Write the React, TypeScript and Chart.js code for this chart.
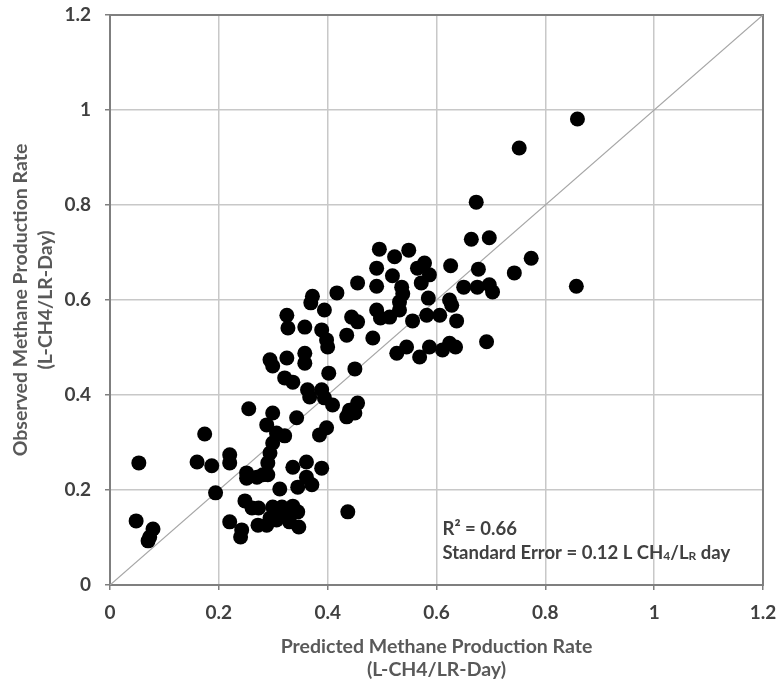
import React, { useEffect, useRef } from "react";
import { Chart, registerables } from "chart.js";
Chart.register(...registerables);

// Predicted (x) and observed (y) methane production rates, L-CH4/LR-Day
const predicted = [
  0.859, 0.752, 0.673, 0.664, 0.697, 0.774, 0.743, 0.626, 0.677, 0.857,
  0.650, 0.675, 0.697, 0.703, 0.578, 0.587, 0.572, 0.585, 0.624, 0.628,
  0.582, 0.606, 0.637, 0.587, 0.611, 0.624, 0.635, 0.692, 0.569, 0.545,
  0.527, 0.495, 0.523, 0.549, 0.565, 0.490, 0.519, 0.455, 0.490, 0.536,
  0.372, 0.417, 0.538, 0.369, 0.394, 0.325, 0.327, 0.358, 0.389, 0.398,
  0.400, 0.435, 0.444, 0.455, 0.483, 0.490, 0.497, 0.514, 0.532, 0.532,
  0.556, 0.294, 0.299, 0.325, 0.358, 0.358, 0.402, 0.450, 0.321, 0.336,
  0.363, 0.367, 0.389, 0.394, 0.409, 0.440, 0.455, 0.435, 0.450, 0.343,
  0.255, 0.299, 0.288, 0.306, 0.321, 0.385, 0.398, 0.174, 0.299, 0.294,
  0.290, 0.281, 0.251, 0.251, 0.270, 0.290, 0.053, 0.160, 0.187, 0.220,
  0.220, 0.336, 0.361, 0.389, 0.361, 0.345, 0.371, 0.312, 0.194, 0.248,
  0.261, 0.273, 0.299, 0.316, 0.336, 0.345, 0.325, 0.306, 0.288, 0.272,
  0.347, 0.321, 0.294, 0.330, 0.437, 0.220, 0.242, 0.240, 0.048, 0.079,
  0.073, 0.070,
];
const observed = [
  0.981, 0.920, 0.806, 0.728, 0.731, 0.688, 0.657, 0.672, 0.665, 0.629,
  0.627, 0.627, 0.632, 0.617, 0.678, 0.653, 0.636, 0.604, 0.600, 0.589,
  0.568, 0.568, 0.556, 0.501, 0.495, 0.509, 0.501, 0.512, 0.480, 0.501,
  0.488, 0.707, 0.691, 0.705, 0.667, 0.667, 0.651, 0.636, 0.629, 0.627,
  0.608, 0.615, 0.613, 0.594, 0.579, 0.568, 0.541, 0.543, 0.537, 0.516,
  0.501, 0.526, 0.564, 0.554, 0.520, 0.579, 0.562, 0.564, 0.579, 0.596,
  0.556, 0.474, 0.461, 0.478, 0.488, 0.467, 0.446, 0.455, 0.436, 0.427,
  0.411, 0.396, 0.411, 0.394, 0.379, 0.368, 0.383, 0.354, 0.362, 0.352,
  0.371, 0.362, 0.337, 0.320, 0.314, 0.316, 0.331, 0.318, 0.299, 0.278,
  0.257, 0.232, 0.236, 0.225, 0.227, 0.232, 0.257, 0.259, 0.251, 0.274,
  0.257, 0.248, 0.259, 0.246, 0.227, 0.206, 0.211, 0.202, 0.194, 0.177,
  0.162, 0.162, 0.164, 0.164, 0.166, 0.154, 0.143, 0.137, 0.126, 0.126,
  0.122, 0.152, 0.141, 0.133, 0.154, 0.133, 0.116, 0.101, 0.135, 0.118,
  0.101, 0.093,
];

const oneToOneX = [0, 1.2];
const oneToOneY = [0, 1.2];
const xTickValues = [0, 0.2, 0.4, 0.6, 0.8, 1, 1.2];
const yTickValues = [0, 0.2, 0.4, 0.6, 0.8, 1, 1.2];
const xTitle = ["Predicted Methane Production Rate", "(L-CH4/LR-Day)"];
const yTitle = ["Observed Methane Production Rate", "(L-CH4/LR-Day)"];
const rSquaredLabel = "R² = 0.66";
// segments: [text, isSubscript]
const stdErrorLabel: [string, boolean][] = [
  ["Standard Error = 0.12 L CH", false],
  ["4", true],
  ["/L", false],
  ["R", true],
  [" day", false],
];
const annotX = 0.611;
const annotY1 = 0.118;
const annotY2 = 0.067;

const FONT = "Lato, 'Open Sans', sans-serif";

const framePlugin = {
  id: "frame",
  beforeDatasetsDraw(chart: any) {
    const { ctx, chartArea: a } = chart;
    ctx.save();
    ctx.strokeStyle = "#7f7f7f";
    ctx.lineWidth = 2;
    ctx.strokeRect(a.left, a.top, a.right - a.left, a.bottom - a.top);
    ctx.restore();
  },
};

const annotationPlugin = {
  id: "annot",
  afterDatasetsDraw(chart: any) {
    const { ctx, scales } = chart;
    const x0 = scales.x.getPixelForValue(annotX);
    const y1 = scales.y.getPixelForValue(annotY1);
    const y2 = scales.y.getPixelForValue(annotY2);
    ctx.save();
    ctx.fillStyle = "#404040";
    ctx.textBaseline = "middle";
    ctx.textAlign = "left";
    ctx.font = `bold 18.5px ${FONT}`;
    ctx.fillText(rSquaredLabel, x0, y1);
    let x = x0;
    for (const [t, sub] of stdErrorLabel) {
      ctx.font = sub ? `bold 12px ${FONT}` : `bold 18.5px ${FONT}`;
      ctx.fillText(t, x, sub ? y2 + 3 : y2);
      x += ctx.measureText(t).width;
    }
    ctx.restore();
  },
};

const fmt = (v: any) => String(Math.round(Number(v) * 10) / 10);

export default function App() {
  const ref = useRef<HTMLCanvasElement | null>(null);
  useEffect(() => {
    if (!ref.current) return;
    const chart = new Chart(ref.current, {
      type: "scatter",
      data: {
        datasets: [
          {
            label: "Observed vs Predicted",
            data: predicted.map((x, i) => ({ x, y: observed[i] })),
            backgroundColor: "#000000",
            borderColor: "#000000",
            pointRadius: 7.5,
            pointBorderWidth: 0,
          },
          {
            label: "1:1",
            type: "line",
            data: oneToOneX.map((x, i) => ({ x, y: oneToOneY[i] })),
            borderColor: "#a6a6a6",
            borderWidth: 1.2,
            pointRadius: 0,
            fill: false,
          },
        ],
      },
      options: {
        animation: false,
        responsive: false,
        devicePixelRatio: 1,
        layout: { padding: { top: 15, right: 13, left: 0, bottom: 0 } },
        plugins: { legend: { display: false }, tooltip: { enabled: false } },
        scales: {
          x: {
            type: "linear",
            min: 0,
            max: 1.2,
            afterBuildTicks: (s: any) => {
              s.ticks = xTickValues.map((v) => ({ value: v }));
            },
            afterFit: (s: any) => {
              s.height = 96;
              s.paddingLeft = 0;
              s.paddingRight = 0;
            },
            grid: { color: "#c8c8c8", lineWidth: 1.5, tickLength: 5, tickColor: "#7f7f7f" },
            border: { color: "#7f7f7f", width: 2 },
            ticks: {
              color: "#404040",
              font: { family: FONT, size: 19, weight: "bold" },
              padding: 11,
              maxRotation: 0,
              callback: fmt,
            },
            title: {
              display: true,
              text: xTitle,
              color: "#595959",
              font: { family: FONT, size: 19.5, weight: "bold", lineHeight: 1.18 },
              padding: { top: 0, bottom: 0 },
            },
          },
          y: {
            type: "linear",
            min: 0,
            max: 1.2,
            afterBuildTicks: (s: any) => {
              s.ticks = yTickValues.map((v) => ({ value: v }));
            },
            afterFit: (s: any) => {
              s.width = 110;
              s.paddingTop = 0;
              s.paddingBottom = 0;
            },
            grid: { color: "#c8c8c8", lineWidth: 1.5, tickLength: 5, tickColor: "#7f7f7f" },
            border: { color: "#7f7f7f", width: 2 },
            ticks: {
              color: "#404040",
              font: { family: FONT, size: 19, weight: "bold" },
              padding: 14,
              callback: fmt,
            },
            title: {
              display: true,
              text: yTitle,
              color: "#595959",
              font: { family: FONT, size: 19.5, weight: "bold", lineHeight: 1.28 },
              padding: { top: 8, bottom: 0 },
            },
          },
        },
      },
      plugins: [framePlugin, annotationPlugin],
    } as any);
    return () => chart.destroy();
  }, []);
  return (
    <div style={{ position: "fixed", left: 0, top: 0, width: 776, height: 681, background: "#fff" }}>
      <canvas ref={ref} width={776} height={681} style={{ width: 776, height: 681, display: "block" }} />
    </div>
  );
}
